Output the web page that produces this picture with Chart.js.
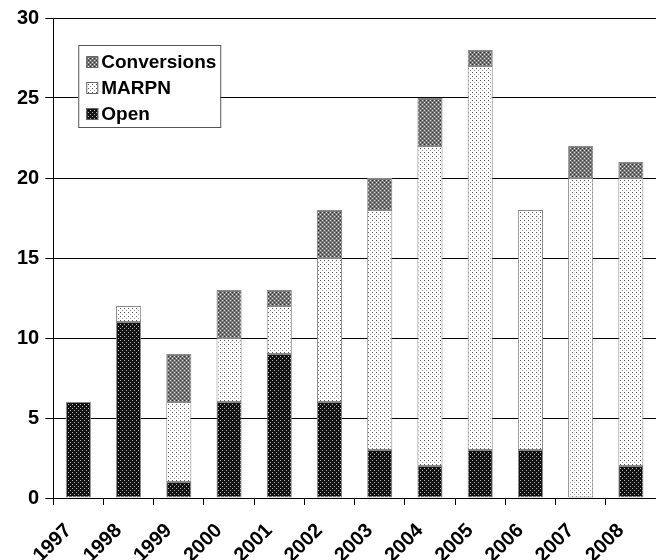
<!DOCTYPE html>
<html>
<head>
<meta charset="utf-8">
<script src="https://cdn.jsdelivr.net/npm/chart.js@4/dist/chart.umd.min.js"></script>
<style>
  html, body { margin: 0; padding: 0; background: #fff; }
  #wrap { width: 656px; height: 560px; }
</style>
</head>
<body>
<div id="wrap"><canvas id="projectsChart" width="656" height="560"></canvas></div>
<script>
// Data
const years = ['1997', '1998', '1999', '2000', '2001', '2002', '2003', '2004', '2005', '2006', '2007', '2008'];
const openValues = [6, 11, 1, 6, 9, 6, 3, 2, 3, 3, 0, 2];
const marpnValues = [0, 1, 5, 4, 3, 9, 15, 20, 24, 15, 20, 18];
const conversionValues = [0, 0, 3, 3, 1, 3, 2, 3, 1, 0, 2, 1];
const yTicks = [0, 5, 10, 15, 20, 25, 30];

const FONT = 'Liberation Sans, Arial, sans-serif';

// Build small fill patterns like the old spreadsheet hatches
function makePattern(kind) {
    const c = document.createElement('canvas');
    c.width = 4;
    c.height = 4;
    const g = c.getContext('2d');
    if (kind === 'open') {
        g.fillStyle = '#111';
        g.fillRect(0, 0, 4, 4);
        g.fillStyle = '#bbb';
        g.fillRect(0, 0, 1, 1);
        g.fillRect(2, 2, 1, 1);
    } else if (kind === 'marpn') {
        g.fillStyle = '#fff';
        g.fillRect(0, 0, 4, 4);
        g.fillStyle = '#555';
        g.fillRect(0, 0, 1, 1);
        g.fillStyle = '#999';
        g.fillRect(2, 2, 1, 1);
    } else {
        g.fillStyle = '#777';
        g.fillRect(0, 0, 4, 4);
        g.fillStyle = '#333';
        g.fillRect(0, 0, 1, 1);
        g.fillRect(2, 2, 1, 1);
        g.fillStyle = '#ddd';
        g.fillRect(2, 0, 1, 1);
        g.fillRect(0, 2, 1, 1);
    }
    return document.createElement('canvas').getContext('2d').createPattern(c, 'repeat');
}

const openFill = makePattern('open');
const marpnFill = makePattern('marpn');
const conversionFill = makePattern('conv');

// Legend box drawn inside the plot, top left
const boxLegend = {
    id: 'boxLegend',
    afterDraw(chart) {
        const ctx = chart.ctx;
        const area = chart.chartArea;
        const x = area.left + 25;
        const y = area.top + 27;
        const w = 142;
        const h = 82;
        ctx.save();
        ctx.fillStyle = '#fff';
        ctx.fillRect(x, y, w, h);
        ctx.strokeStyle = '#555';
        ctx.lineWidth = 1;
        ctx.strokeRect(x + 0.5, y + 0.5, w, h);
        const items = chart.data.datasets.slice().reverse();
        ctx.font = 'bold 19px ' + FONT;
        ctx.textBaseline = 'middle';
        items.forEach((ds, i) => {
            const cy = y + 17 + i * 26;
            ctx.fillStyle = ds.backgroundColor;
            ctx.fillRect(x + 8, cy - 6, 12, 12);
            ctx.strokeStyle = '#666';
            ctx.strokeRect(x + 8.5, cy - 5.5, 11, 11);
            ctx.fillStyle = '#000';
            ctx.fillText(ds.label, x + 23, cy + 1);
        });
        ctx.restore();
    }
};

const ctx = document.getElementById('projectsChart').getContext('2d');
new Chart(ctx, {
    type: 'bar',
    data: {
        labels: years,
        datasets: [
            { label: 'Open', data: openValues, backgroundColor: openFill },
            { label: 'MARPN', data: marpnValues, backgroundColor: marpnFill },
            { label: 'Conversions', data: conversionValues, backgroundColor: conversionFill }
        ].map(ds => Object.assign(ds, {
            borderColor: '#888',
            borderWidth: 1,
            borderSkipped: false,
            barPercentage: 0.5,
            categoryPercentage: 1
        }))
    },
    options: {
        responsive: false,
        animation: false,
        layout: { padding: { top: 14, right: -3, bottom: 0, left: 11 } },
        plugins: {
            legend: { display: false },
            tooltip: { enabled: false }
        },
        scales: {
            x: {
                stacked: true,
                afterFit: scale => {
                    scale.height = 62;
                    scale.paddingLeft = 0;
                    scale.paddingRight = 0;
                },
                border: { color: '#000', width: 1 },
                grid: {
                    offset: true,
                    drawOnChartArea: false,
                    color: '#000',
                    tickLength: 7
                },
                ticks: {
                    color: '#000',
                    font: { family: FONT, size: 20, weight: 'bold' },
                    minRotation: 45,
                    maxRotation: 45,
                    labelOffset: -10,
                    padding: 14
                }
            },
            y: {
                stacked: true,
                min: 0,
                max: 30,
                border: { color: '#000', width: 1 },
                grid: { color: '#000', tickLength: 8 },
                afterBuildTicks: scale => { scale.ticks = yTicks.map(v => ({ value: v })); },
                ticks: {
                    color: '#000',
                    font: { family: FONT, size: 20, weight: 'bold' },
                    padding: 6
                }
            }
        }
    },
    plugins: [boxLegend]
});
</script>
</body>
</html>
